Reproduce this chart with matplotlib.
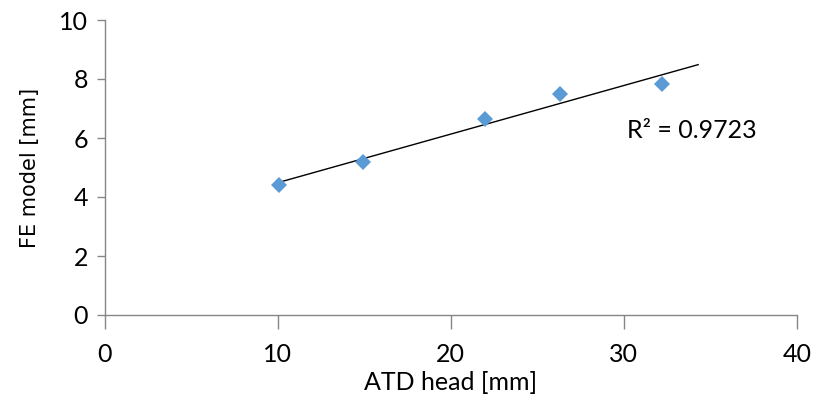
import numpy as np
import matplotlib.pyplot as plt

# Daten
atd_head = [10.04, 14.9, 21.95, 26.3, 32.2]
fe_model = [4.40, 5.19, 6.65, 7.48, 7.83]
x_ticks = [0, 10, 20, 30, 40]
y_ticks = [0, 2, 4, 6, 8, 10]

x = np.array(atd_head)
y = np.array(fe_model)

# lineare Trendlinie (wie Excel), mit Vorwärtsprognose
slope, intercept = np.polyfit(x, y, 1)
x_fit = np.array([x.min(), x.max() + 2.1])

plt.rcParams['font.family'] = ['Lato', 'DejaVu Sans']
axis_grey = '#868686'

fig = plt.figure(figsize=(8.13, 4.0), dpi=100)
ax = fig.add_axes([0.129, 0.2125, 0.851, 0.7375])

ax.plot(x_fit, slope * x_fit + intercept, color='black', lw=1.0, zorder=2)
ax.plot(x, y, linestyle='none', marker='D', ms=7.8, mew=0,
        color='#5B9BD5', zorder=3)

ax.text(30.2, 6.27, 'R² = 0.9723', fontsize=18, ha='left', va='center')

ax.set_xlim(0, 40)
ax.set_ylim(0, 10)
ax.set_xticks(x_ticks)
ax.set_yticks(y_ticks)

for s in ['top', 'right']:
    ax.spines[s].set_visible(False)
for s in ['left', 'bottom']:
    ax.spines[s].set_color(axis_grey)
    ax.spines[s].set_linewidth(1.0)

ax.tick_params(axis='x', direction='out', length=10, width=1.0,
               color=axis_grey, labelsize=18, pad=10)
ax.tick_params(axis='y', direction='out', length=6, width=1.0,
               color=axis_grey, labelsize=18, pad=6)

ax.set_xlabel('ATD head [mm]', fontsize=18, labelpad=4)
ax.set_ylabel('FE model [mm]', fontsize=15, family='DejaVu Sans', labelpad=14)

fig.savefig('out.png', dpi=100)
